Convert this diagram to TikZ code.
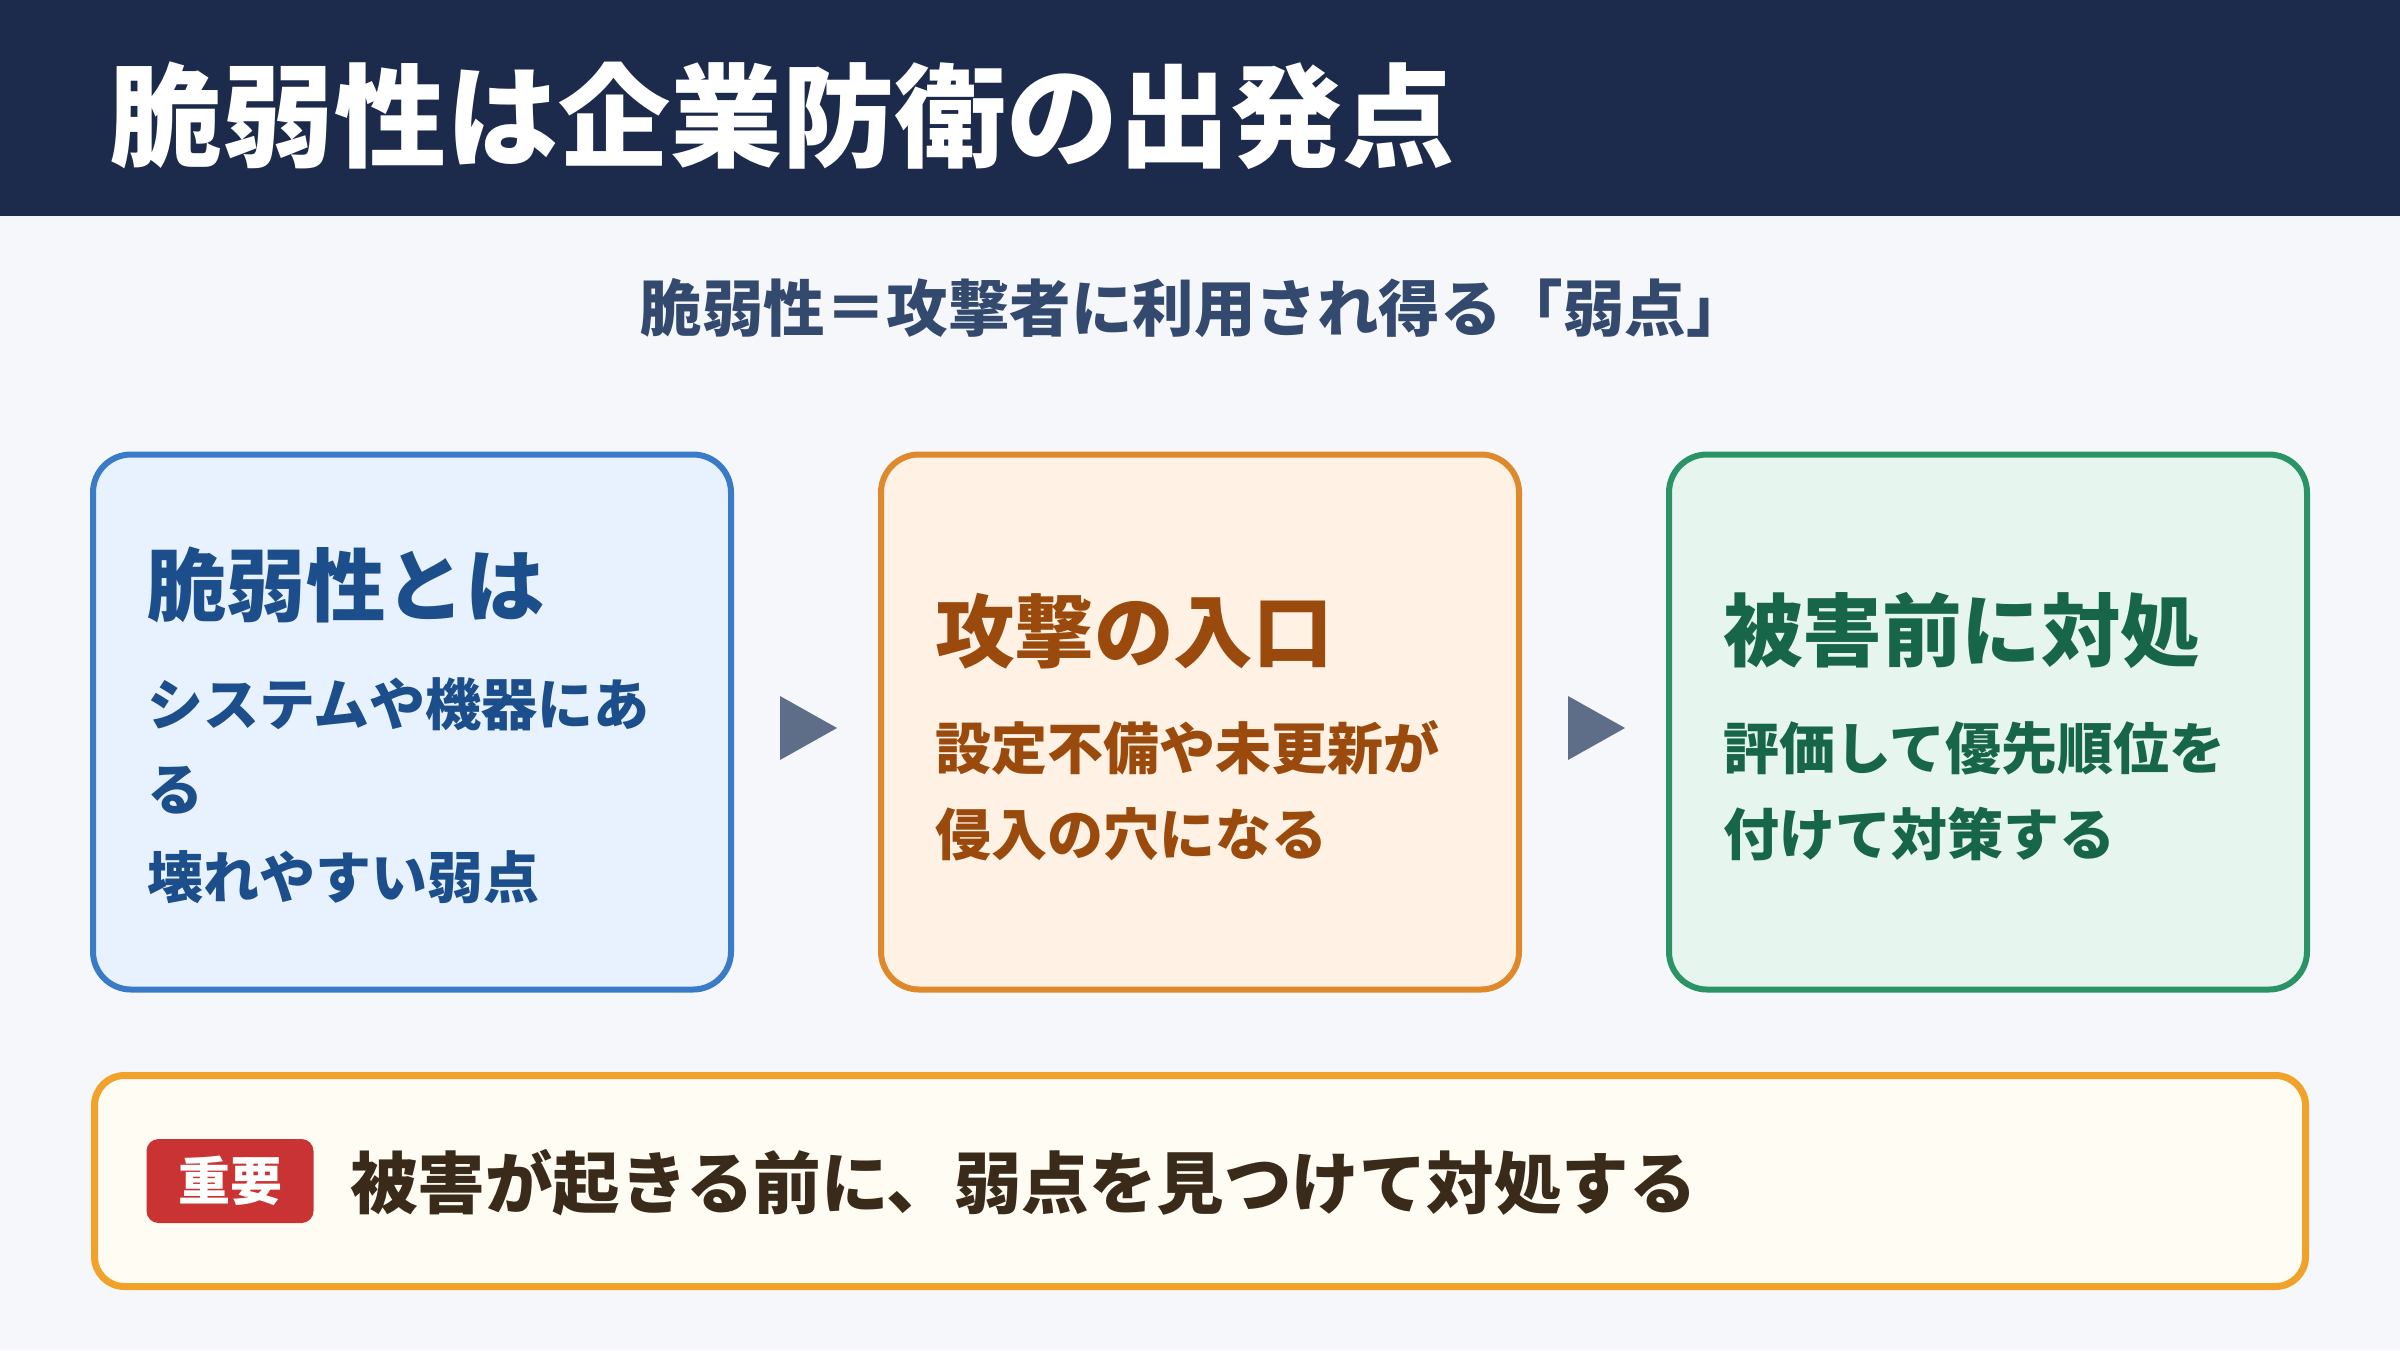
\documentclass[tikz,border=0pt]{standalone}
\usepackage{fontspec}
\setmainfont{Noto Sans CJK JP}
\definecolor{navy}{HTML}{1C2B4B}
\definecolor{bgc}{HTML}{F5F7FB}
\definecolor{subc}{HTML}{34496E}
\definecolor{arrc}{HTML}{5E6E89}
\definecolor{bluebd}{HTML}{3A7BC8}
\definecolor{bluefl}{HTML}{E8F2FE}
\definecolor{bluetx}{HTML}{1B4E8A}
\definecolor{orgbd}{HTML}{DE8A2C}
\definecolor{orgfl}{HTML}{FFF1E3}
\definecolor{orgtx}{HTML}{9A4A0C}
\definecolor{grnbd}{HTML}{2A9467}
\definecolor{grnfl}{HTML}{E6F6EE}
\definecolor{grntx}{HTML}{17664A}
\definecolor{botbd}{HTML}{F0A22A}
\definecolor{botfl}{HTML}{FFFCF3}
\definecolor{bottx}{HTML}{3A2A1A}
\definecolor{badge}{HTML}{C93333}
\begin{document}
\begin{tikzpicture}[x=1pt,y=-1pt,
  card/.style={draw, line width=6pt, rounded corners=38pt, minimum width=638pt, minimum height=535pt, inner sep=0pt},
  cardtitle/.style={anchor=west, inner sep=0pt, font=\fontsize{79.5}{90}\selectfont\bfseries},
  cardbody/.style={anchor=west, inner sep=0pt, font=\fontsize{56}{62}\selectfont\bfseries},
  tri/.style={fill=arrc}]
\useasboundingbox (0,0) rectangle (2400,1350);
\fill[bgc] (0,0) rectangle (2400,1350);
\fill[navy] (0,0) rectangle (2400,216);
\node[anchor=west, inner sep=0pt, text=white, font=\fontsize{112}{122}\selectfont\bfseries] (title) at (110,116) {脆弱性は企業防衛の出発点};
\node[inner sep=0pt, text=subc, font=\fontsize{61.5}{70}\selectfont\bfseries] (sub) at (1194,308) {脆弱性＝攻撃者に利用され得る「弱点」};

\node[card, draw=bluebd, fill=bluefl] (b1) at (412,722) {};
\node[card, draw=orgbd, fill=orgfl] (b2) at (1200,722) {};
\node[card, draw=grnbd, fill=grnfl] (b3) at (1988,722) {};

\node[cardtitle, text=bluetx] (t1) at (147,585) {脆弱性とは};
\node[cardbody, text=bluetx] (l1a) at (147,704) {システムや機器にあ};
\node[cardbody, text=bluetx] (l1b) at (147,790) {る};
\node[cardbody, text=bluetx] (l1c) at (147,877) {壊れやすい弱点};

\node[cardtitle, text=orgtx] (t2) at (935,631) {攻撃の入口};
\node[cardbody, text=orgtx] (l2a) at (935,748) {設定不備や未更新が};
\node[cardbody, text=orgtx] (l2b) at (935,834) {侵入の穴になる};

\node[cardtitle, text=grntx] (t3) at (1723,631) {被害前に対処};
\node[cardbody, text=grntx] (l3a) at (1723,748) {評価して優先順位を};
\node[cardbody, text=grntx] (l3b) at (1723,834) {付けて対策する};

\fill[tri] ([xshift=46pt,yshift=26pt]b1.east) -- ++(57,32) -- ++(-57,32) -- cycle;
\fill[tri] ([xshift=46pt,yshift=26pt]b2.east) -- ++(57,32) -- ++(-57,32) -- cycle;

\node[draw=botbd, fill=botfl, line width=7pt, rounded corners=30pt, minimum width=2211pt, minimum height=211pt, inner sep=0pt] (bot) at (1200,1181) {};
\node[fill=badge, rounded corners=12pt, minimum width=167pt, minimum height=84pt, inner sep=0pt, text=white, font=\fontsize{52}{58}\selectfont\bfseries] (bd) at (230,1181) {重要};
\node[anchor=west, inner sep=0pt, text=bottx, font=\fontsize{67.5}{74}\selectfont\bfseries] (msg) at (350,1183) {被害が起きる前に、弱点を見つけて対処する};
\end{tikzpicture}
\end{document}
